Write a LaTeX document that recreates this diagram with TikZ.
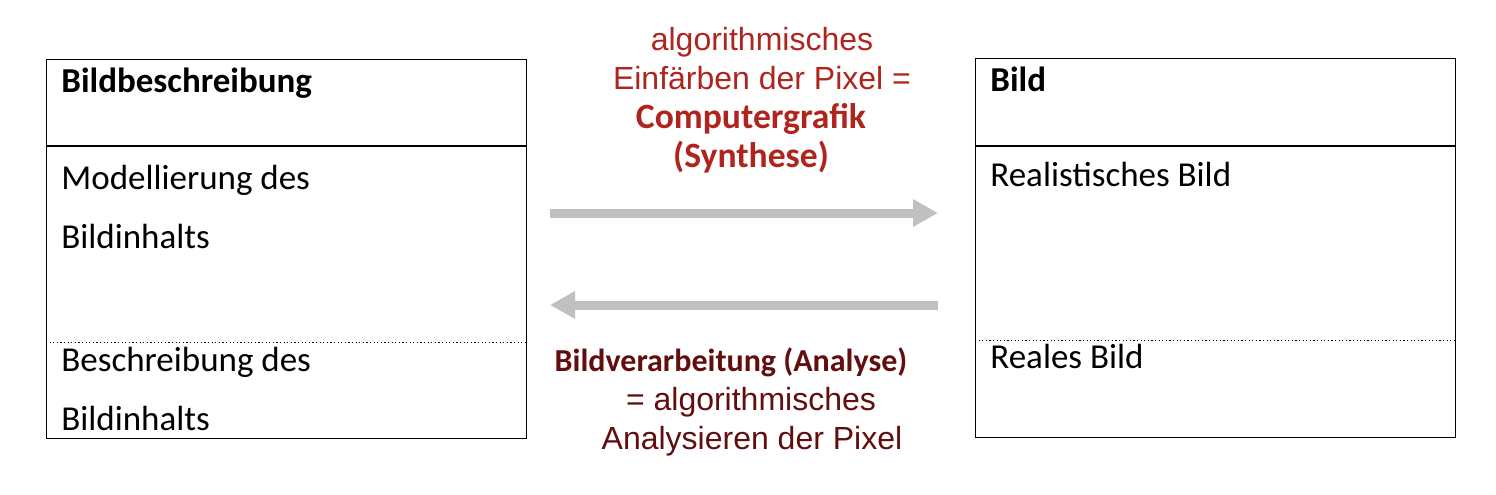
\documentclass[tikz,border=0pt]{standalone}
\usepackage{fontspec}
\setmainfont{Carlito}
\newfontfamily\arialfont{Liberation Sans}
\usetikzlibrary{arrows.meta}
\definecolor{synred}{RGB}{176,36,30}
\definecolor{anabrown}{RGB}{98,14,14}
\definecolor{flowgrey}{RGB}{192,192,192}
\begin{document}
\begin{tikzpicture}[
		x=0.5pt, y=-0.5pt,
		panel/.style = {
			draw,
			line width = 0.7pt,
			anchor = north west,
			inner sep = 0pt,
			minimum width = 240pt,
			minimum height = 189.5pt
		},
		entry/.style = {
			anchor = base west,
			align = left,
			inner sep = 0pt,
			font = \fontsize{17.5}{29.5}\selectfont
		},
		caption/.style = {
			anchor = base,
			align = center,
			inner sep = 0pt,
			font = \arialfont\fontsize{16}{19.5}\selectfont
		},
		flow/.style = {
			draw = flowgrey,
			line width = 4.5pt,
			-{Triangle[length=12.5pt,width=13pt]}
		},
		split/.style = {line width=0.5pt, dash pattern=on 0.6pt off 1.2pt}
	]
	\useasboundingbox (0,0) rectangle (1496,494);
	% the two panels
	\node[panel] (desc) at (46,59) {};
	\node[panel] (img)  at (975,58) {};
	\draw[line width=0.7pt] (desc.west |- 0,146) -- (desc.east |- 0,146);
	\draw[line width=0.7pt] (img.west |- 0,146)  -- (img.east |- 0,146);
	\draw[split] (desc.west |- 0,342) -- (desc.east |- 0,342);
	\draw[split] (img.west |- 0,340)  -- (img.east |- 0,340);
	% base anchor sits on the last line
	\node[entry, font=\fontsize{17.5}{29.5}\selectfont\bfseries] (descHead) at (61,92) {Bildbeschreibung};
	\node[entry] (descModel) at (61,248) {Modellierung des\\Bildinhalts};
	\node[entry] (descText)  at (61,430) {Beschreibung des\\Bildinhalts};
	\node[entry, font=\fontsize{17.5}{29.5}\selectfont\bfseries] (imgHead) at (990,91) {Bild};
	\node[entry] (imgReal)   at (990,186) {Realistisches Bild};
	\node[entry] (imgActual) at (990,368) {Reales Bild};
	% arrows between the panels
	\coordinate (synFrom) at (550,213);
	\coordinate (synTo)   at (938,213);
	\coordinate (anaFrom) at (938,305);
	\coordinate (anaTo)   at (550,305);
	\draw[flow] (synFrom) -- (synTo);
	\draw[flow] (anaFrom) -- (anaTo);
	\node[caption, text=synred] (synLabel) at (751,167) {
		\hspace*{11pt}algorithmisches\\
		\hspace*{11pt}Einfärben der Pixel =\\
		{\rmfamily\bfseries\fontsize{17.8}{19.5}\selectfont Computergrafik}\\
		{\rmfamily\bfseries\fontsize{17.8}{19.5}\selectfont (Synthese)}
	};
	\node[caption, text=anabrown] (anaLabel) at (731,449) {
		{\rmfamily\bfseries\fontsize{16}{19.5}\selectfont Bildverarbeitung (Analyse)}\\
		\hspace*{20pt}= algorithmisches\\
		\hspace*{21pt}Analysieren der Pixel
	};
\end{tikzpicture}
\end{document}
